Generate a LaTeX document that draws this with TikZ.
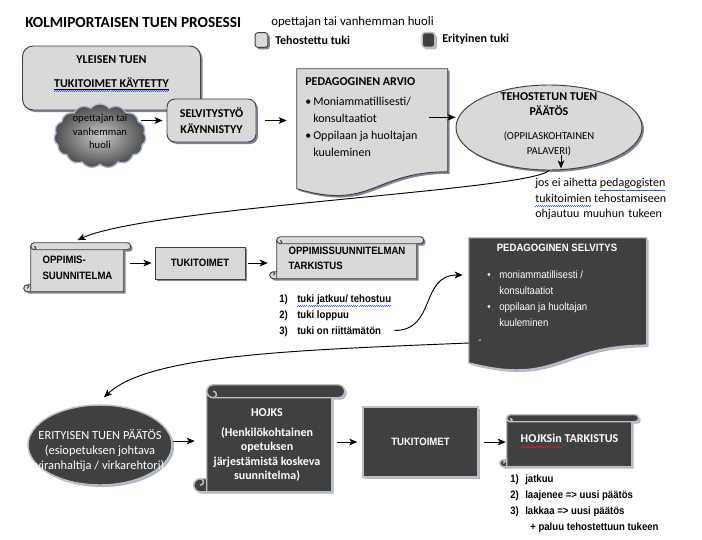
\documentclass[tikz,border=0pt]{standalone}
\usepackage{fontspec}
\setmainfont{Carlito}
\newfontfamily\narrowfont{Liberation Sans}[FakeStretch=0.9]
\usetikzlibrary{arrows.meta,shapes.geometric,shapes.symbols,shadows,backgrounds}

\definecolor{lightfill}{HTML}{D9D9D9}
\definecolor{lightline}{HTML}{3F3F3F}
\definecolor{darkfill}{HTML}{404040}
\definecolor{darkline}{HTML}{BFBFBF}
\definecolor{lightshadow}{HTML}{7F8797}
\definecolor{darkshadow}{HTML}{A9B7CB}
\definecolor{cloudin}{HTML}{C8C8C8}
\definecolor{cloudout}{HTML}{4C4C4C}
\definecolor{cloudedge}{HTML}{A8B8CC}
\definecolor{spellblue}{HTML}{3355FF}
\definecolor{spellred}{HTML}{E02020}

% spell-check wave under a word
\newcommand\spellwave[2]{\setbox0\hbox{#2}\rlap{\textcolor{#1}{\hbox to\wd0{\xleaders\hbox{\rule[-3.4pt]{0.75pt}{0.5pt}\rule[-2.9pt]{0.75pt}{0.5pt}}\hfil}}}\box0\relax}
\newcommand\linewave[1]{\setbox0\hbox{#1}\rlap{\rule[-1.6pt]{\wd0}{0.45pt}}\spellwave{spellblue}{\box0\relax}}

% document shape: node, width, height (px), look, shadow colour
\newcommand\docshape[5]{%
  \begin{scope}[shift={(#1.north west)},x=0.75pt,y=0.75pt]
    \fill[#5,shift={(2,-2)}] (0,0) -- (#2,0) -- (#2,{-0.802*#3}) .. controls ({0.5*#2},{-0.802*#3}) and ({0.5*#2},{-1.107*#3}) .. (0,{-0.934*#3}) -- cycle;
    \filldraw[#4] (0,0) -- (#2,0) -- (#2,{-0.802*#3}) .. controls ({0.5*#2},{-0.802*#3}) and ({0.5*#2},{-1.107*#3}) .. (0,{-0.934*#3}) -- cycle;
  \end{scope}}

% scroll shape: node, body width, height, roll (px), look, shadow colour
\newcommand\scrollshape[6]{%
  \pgfmathsetmacro\rr{#4/2}%
  \pgfmathsetmacro\rb{#3-#4}%
  \begin{scope}[shift={(#1.north west)},x=0.75pt,y=0.75pt]
    \fill[#6,shift={(2,-2)}] (0,-\rr) -- (0,-\rb) -- (-\rr,-\rb) arc[start angle=90,end angle=270,radius=\rr] -- (#2,-#3) -- (#2,-\rr) -- cycle;
    \fill[#6,shift={(2,-2)}] (\rr,0) -- ({#2+\rr},0) arc[start angle=90,end angle=-90,radius=\rr] -- (\rr,-#4) arc[start angle=270,end angle=90,radius=\rr] -- cycle;
    \filldraw[#5] (0,-\rr) -- (0,-\rb) -- (-\rr,-\rb) arc[start angle=90,end angle=270,radius=\rr] -- (#2,-#3) -- (#2,-\rr) -- cycle;
    \filldraw[#5] (\rr,0) -- ({#2+\rr},0) arc[start angle=90,end angle=-90,radius=\rr] -- (\rr,-#4) arc[start angle=270,end angle=90,radius=\rr] -- cycle;
    \draw[#5,fill=none] (\rr,-#4) arc[start angle=-90,end angle=90,radius=\rr/2];
    \draw[#5,fill=none] (-\rr,-\rb) arc[start angle=90,end angle=-90,radius=\rr/2] (0,-\rb) -- (0,-#3);
  \end{scope}}

\begin{document}
\begin{tikzpicture}[x=0.75pt,y=-0.75pt,
                    arr/.style={-{Stealth[length=6pt,width=5pt,inset=1.5pt]},line width=0.7pt},
                    light box/.style={draw=lightline,fill=lightfill,line width=0.7pt,
                      drop shadow={shadow xshift=1.5pt,shadow yshift=-1.5pt,fill=lightshadow,opacity=1}},
                    dark box/.style={draw=darkline,fill=darkfill,line width=1.1pt,text=white,
                      drop shadow={shadow xshift=1.5pt,shadow yshift=-1.5pt,fill=darkshadow,opacity=1}},
                    light shape/.style={draw=lightline,fill=lightfill,line width=0.7pt},
                    dark shape/.style={draw=darkline,fill=darkfill,line width=1.1pt},
                    key/.style={rounded corners=2pt,minimum width=9.5pt,minimum height=11pt,inner sep=0pt},
                    shape only/.style={inner sep=0pt},
                    free text/.style={inner sep=0pt},
                    head/.style={font=\bfseries\fontsize{9}{11}\selectfont},
                    narrow/.style={font=\narrowfont\bfseries\fontsize{8}{12}\selectfont}]

  \useasboundingbox (0,0) rectangle (702,539);

  % title and legend
  \node[free text,anchor=west,font=\bfseries\fontsize{11.5}{13}\selectfont] (title) at (25,23) {KOLMIPORTAISEN TUEN PROSESSI};
  \node[free text,anchor=west,font=\fontsize{9.6}{11}\selectfont] (huolikey) at (271,22) {opettajan tai vanhemman huoli};
  \node[light box,key] (lightkey) at (261.5,40) {};
  \node[free text,head,anchor=west] (lightlabel) at (275,40) {Tehostettu tuki};
  \node[dark box,key] (darkkey) at (428.5,40) {};
  \node[free text,head,anchor=west] (darklabel) at (442,39) {Erityinen tuki};

  % first row
  \node[light box,rounded corners=8pt,minimum width=133.5pt,minimum height=48pt] (yleinen) at (111.5,78) {};
  \node[free text,head,anchor=north,align=center] (yleinent) at (111.5,55) {YLEISEN TUEN\\[7pt]\linewave{TUKITOIMET KÄYTETTY}};
  \node[cloud,cloud puffs=15,cloud puff arc=100,cloud ignores aspect,minimum width=69pt,minimum height=48pt,
        inner sep=0pt,draw=cloudedge,line width=1pt,shading=radial,inner color=cloudin,outer color=cloudout] (huoli) at (100,136) {};
  \node[free text,align=center,font=\fontsize{8}{10}\selectfont] (huolit) at (100,131.5) {opettajan tai\\vanhemman\\huoli};
  \node[light box,rounded corners=6pt,minimum width=66.75pt,minimum height=32.25pt,head,align=center] (selvitystyo) at (211.5,120.5) {SELVITYSTYÖ\\[1pt]KÄYNNISTYY};

  \node[shape only,minimum width=113.25pt,minimum height=96.4pt] (arvio) at (372.5,133.25) {};
  \node[free text,anchor=north west,align=left,font=\fontsize{9}{12.75}\selectfont] (arviot) at (305,77)
    {\textbf{PEDAGOGINEN ARVIO}\\[2.25pt]\makebox[6pt][l]{\textbullet}Moniammatillisesti/\\\hspace*{6pt}konsultaatiot\\\makebox[6pt][l]{\textbullet}Oppilaan ja huoltajan\\\hspace*{6pt}kuuleminen};

  \node[light box,ellipse,shape only,minimum width=139.5pt,minimum height=63.75pt] (paatos) at (549,127.5) {};
  \node[free text,anchor=north,align=center,font=\fontsize{9}{11.25}\selectfont] (paatost) at (549,92)
    {\textbf{TEHOSTETUN TUEN}\\\textbf{PÄÄTÖS}\\[7pt]{\fontsize{8}{9.75}\selectfont (OPPILASKOHTAINEN}\\{\fontsize{8}{9.75}\selectfont PALAVERI)}};
  \node[free text,anchor=north west,align=left,font=\fontsize{9}{11.6}\selectfont] (ohjaus) at (535,178)
    {jos ei aihetta \spellwave{spellblue}{pedagogisten}\\\spellwave{spellblue}{tukitoimien} tehostamiseen\\\makebox[95pt][s]{ohjautuu muuhun tukeen}};

  \draw[arr,shorten >=3pt] ([xshift=-4pt]huoli.east |- selvitystyo.west) -- (selvitystyo.west);
  \draw[arr,shorten <=6.75pt,shorten >=7.5pt] (selvitystyo.east) -- (selvitystyo.east -| arvio.west);
  \coordinate (arvioout) at ([shift={(-19,-16)}]arvio.east);
  \draw[arr] (arvioout) -- (arvioout -| paatos.west);
  \draw[arr] ([shift={(12,-15)}]paatos.south) -- ([shift={(12,-2)}]paatos.south);

  % second row
  \node[shape only,narrow,align=left,minimum width=69.75pt,minimum height=36.75pt] (suunnitelma) at (77.5,267.5) {OPPIMIS-\\SUUNNITELMA};
  \node[light box,narrow,minimum width=67.5pt,minimum height=24pt] (tukitoimet) at (200,263) {TUKITOIMET};
  \node[shape only,align=left,minimum width=105pt,minimum height=31.5pt,font=\narrowfont\bfseries\fontsize{8}{11.25}\selectfont] (tarkistus) at (347,258) {OPPIMISSUUNNITELMAN\\TARKISTUS};
  \node[free text,anchor=north west,align=left,font=\narrowfont\bfseries\fontsize{8}{12}\selectfont] (vaihtoehdot) at (279,294)
    {\makebox[13.5pt][l]{1)}\spellwave{spellblue}{tuki jatkuu/ tehostuu}\\\makebox[13.5pt][l]{2)}tuki loppuu\\\makebox[13.5pt][l]{3)}tuki on riittämätön};

  \node[shape only,minimum width=133.5pt,minimum height=100.5pt] (selvitys) at (558,305) {};
  \node[free text,narrow,text=white,anchor=north] (selvitysot) at (557,244) {PEDAGOGINEN SELVITYS};
  \node[free text,anchor=north west,align=left,text=white,font=\narrowfont\fontsize{8}{12.2}\selectfont] (selvitysl) at (478,270)
    {\hspace*{6.75pt}\makebox[9pt][l]{\textbullet}moniammatillisesti /\\\hspace*{15.75pt}konsultaatiot\\\hspace*{6.75pt}\makebox[9pt][l]{\textbullet}oppilaan ja huoltajan\\\hspace*{15.75pt}kuuleminen\\-};

  \draw[arr] (paatos.south) .. controls +(-19,20) and +(73,-33) .. ([yshift=2pt]suunnitelma.north);
  \draw[arr,shorten <=4.5pt,shorten >=2.25pt] (suunnitelma.east |- tukitoimet.west) -- (tukitoimet.west);
  \draw[arr,shorten <=2.25pt,shorten >=6.75pt] (tukitoimet.east) -- (tukitoimet.east -| tarkistus.west);
  \draw[arr] ([shift={(3,-6)}]vaihtoehdot.south east) .. controls +(42,0) and +(-43,0) .. ([shift={(-6,-30)}]selvitys.west);

  % third row
  \node[dark box,ellipse,shape only,minimum width=108pt,minimum height=60pt] (erityinen) at (100,445) {};
  \node[free text,anchor=north,align=center,text=white,font=\fontsize{9.3}{11.25}\selectfont] (erityinent) at (100,429)
    {ERITYISEN TUEN PÄÄTÖS\\(esiopetuksen johtava\\viranhaltija / virkarehtori)};
  \node[shape only,minimum width=93.75pt,minimum height=80.25pt] (hojks) at (269.5,438.5) {};
  \node[free text,anchor=north,align=center,text=white,font=\bfseries\fontsize{9}{10.9}\selectfont] (hojkst) at (267,408)
    {HOJKS\\[4pt](Henkilökohtainen\\opetuksen\\järjestämistä koskeva\\suunnitelma)};
  \node[dark box,narrow,minimum width=86.25pt,minimum height=52.5pt] (tukitoimet2) at (420.5,442) {TUKITOIMET};
  \node[shape only,head,text=white,minimum width=93.75pt,minimum height=39pt] (hojkstark) at (569.5,441) {\spellwave{spellred}{HOJKSin} TARKISTUS};
  \node[free text,anchor=north west,align=left,font=\narrowfont\bfseries\fontsize{8}{12.2}\selectfont] (jatko) at (510,474)
    {\makebox[11.25pt][l]{1)}jatkuu\\\makebox[11.25pt][l]{2)}laajenee => uusi päätös\\\makebox[11.25pt][l]{3)}lakkaa => uusi päätös\\\hspace*{15pt}+ paluu tehostettuun tukeen};

  \draw[arr] ([shift={(0,38)}]selvitys.west) .. controls +(-169,7) and +(46,-43) .. ([shift={(4,-7)}]erityinen.north);
  \coordinate (erityinenout) at ([shift={(0,-4)}]erityinen.east);
  \draw[arr,shorten >=9pt] (erityinenout) -- (erityinenout -| hojks.west);
  \draw[arr,shorten <=3.75pt,shorten >=3.75pt] (hojks.east |- tukitoimet2.west) -- (tukitoimet2.west);
  \draw[arr,shorten <=3.75pt,shorten >=0.75pt] (tukitoimet2.east) -- (tukitoimet2.east -| hojkstark.west);

  % shapes behind the texts
  \begin{scope}[on background layer]
    \fill[white] (0,0) rectangle (702,539);
    \docshape{arvio}{151}{128.5}{light shape}{lightshadow}
    \docshape{selvitys}{178}{134}{dark shape}{darkshadow}
    \scrollshape{suunnitelma}{93}{49}{7}{light shape}{lightshadow}
    \scrollshape{tarkistus}{140}{42}{7}{light shape}{lightshadow}
    \scrollshape{hojks}{125}{107}{13}{dark shape}{darkshadow}
    \scrollshape{hojkstark}{125}{52}{7}{dark shape}{darkshadow}
  \end{scope}
\end{tikzpicture}
\end{document}
